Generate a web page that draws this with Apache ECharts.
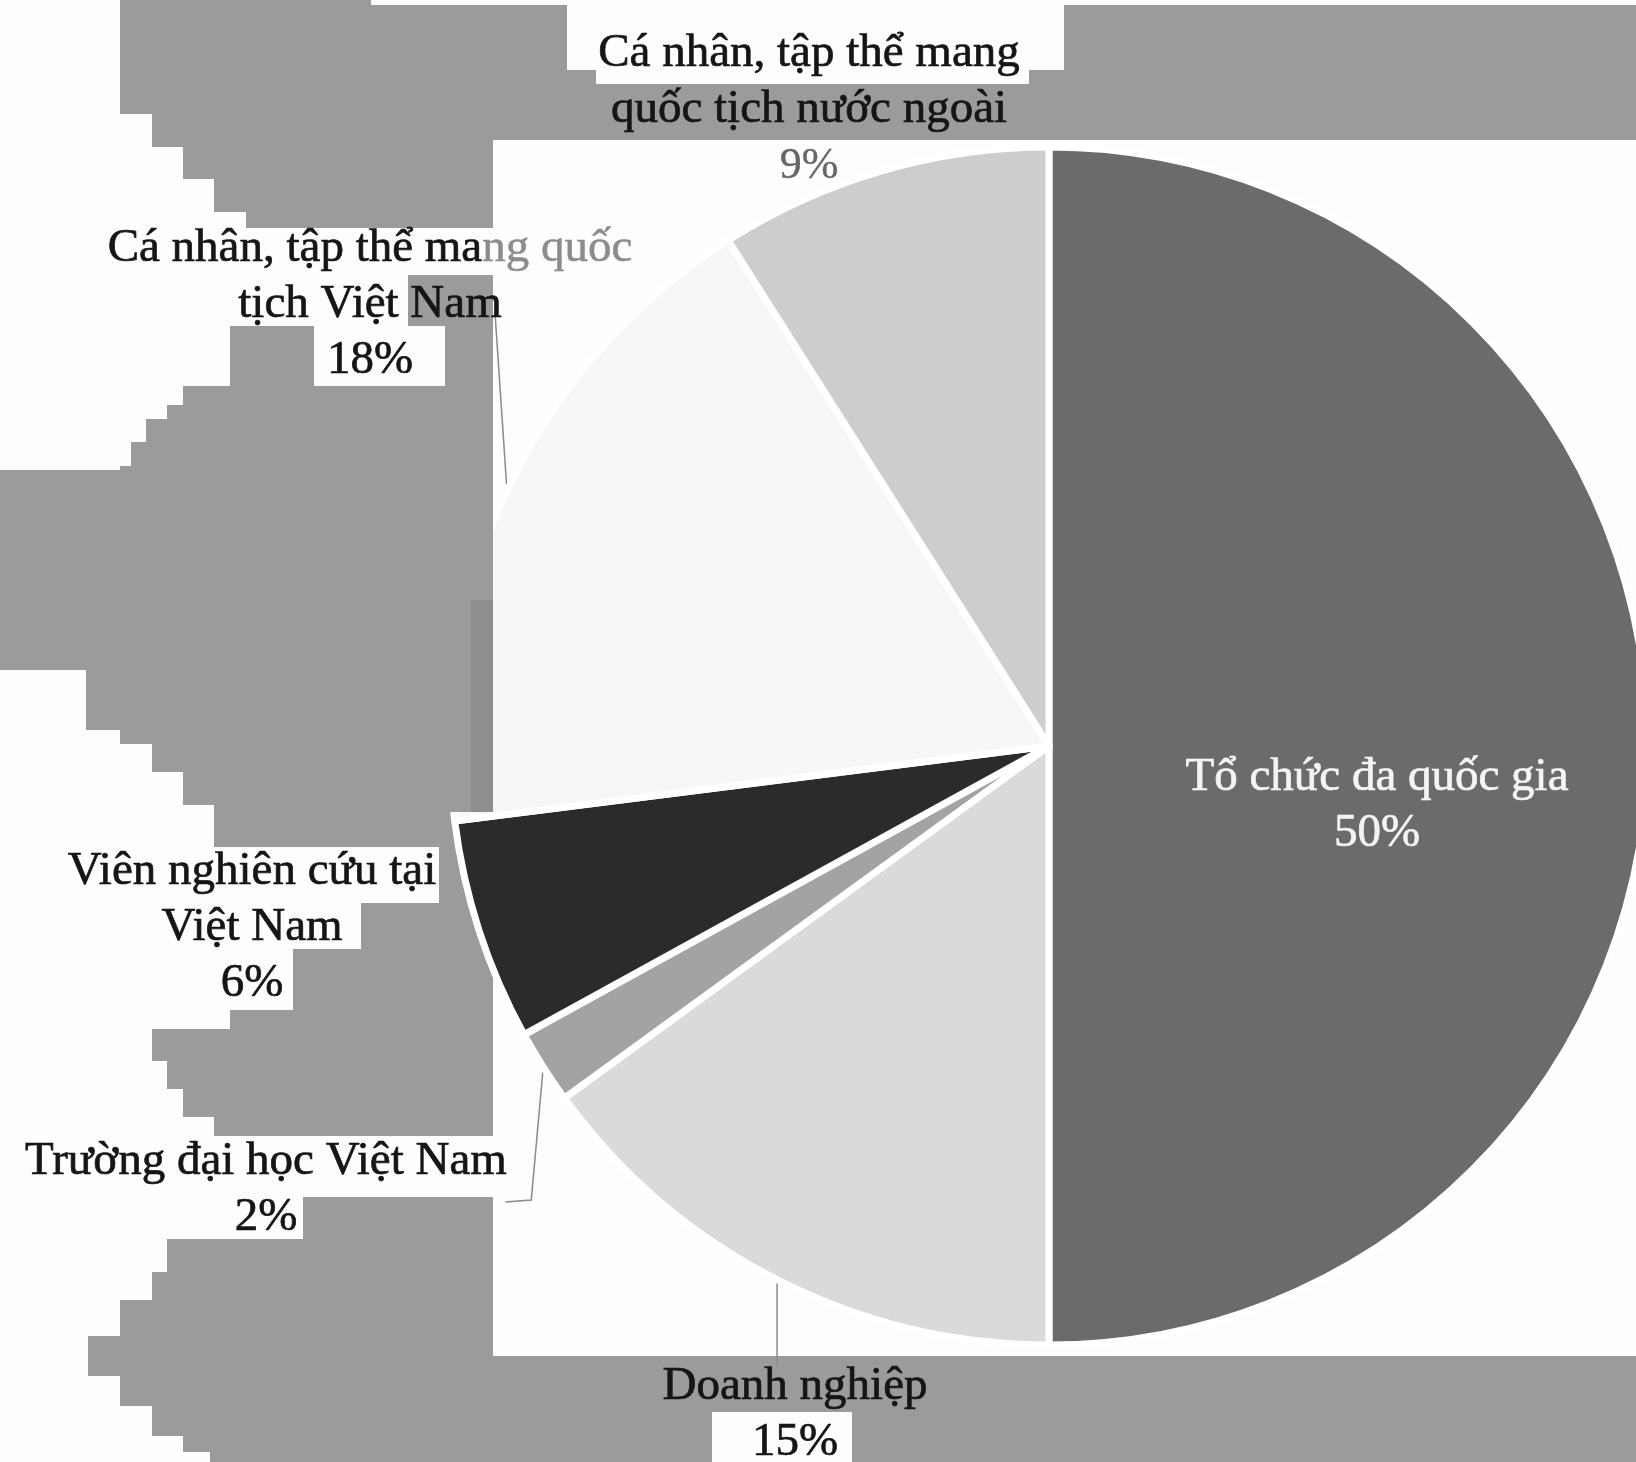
<!DOCTYPE html>
<html>
<head>
<meta charset="utf-8">
<script src="https://cdn.jsdelivr.net/npm/echarts@6/dist/echarts.min.js"></script>
<style>
html,body{margin:0;padding:0;background:#9b9b9b;}
#chart{width:1636px;height:1462px;}
</style>
</head>
<body>
<div id="chart"></div>
<script>
// ---- data ----
const categories = [
  'Tổ chức đa quốc gia',
  'Doanh nghiệp',
  'Trường đại học Việt Nam',
  'Viên nghiên cứu tại Việt Nam',
  'Cá nhân, tập thể mang quốc tịch Việt Nam',
  'Cá nhân, tập thể mang quốc tịch nước ngoài'
];
const shares = [50, 15, 2, 6, 18, 9];
// label text as wrapped in the picture
const labelNameLines = [
  ['Tổ chức đa quốc gia'],
  ['Doanh nghiệp'],
  ['Trường đại học Việt Nam'],
  ['Viên nghiên cứu tại', 'Việt Nam'],
  ['Cá nhân, tập thể mang quốc', 'tịch Việt Nam'],
  ['Cá nhân, tập thể mang', 'quốc tịch nước ngoài']
];

// ---- styles / layout ----
const sliceColors = ['#6b6b6b', '#dadada', '#a3a3a3', '#2b2b2b', '#f7f7f7', '#cdcdcd'];
const labelColors = ['#f4f4f4', '#151515', '#151515', '#151515', '#151515', '#151515'];
const showLeader = [false, true, true, false, true, false];
const fadedTail = [null, null, null, null, 'ng quốc', null];
const greyPercent = [false, false, false, false, false, true];
const labelPos = [[1377, 806], [795, 1415], [266, 1190], [252, 928], [370, 305], [809, 110]];
// leader bends: [x offset from the slice anchor, absolute y]
const leaderBends = [null, [[0, 1366]], [[-12, 1200], [-38, 1202]], null, [[-12, 313]], null];
const FONT = "'Liberation Serif','DejaVu Serif','Times New Roman',serif";

// white scan regions on grey paper [x, y, w, h]
const whiteRects = [
  [0,0,120,114],[0,114,152,33],[0,147,183,32],[0,179,214,33],[0,212,246,16],
  [0,228,640,47],[0,275,408,51],[0,326,230,60],[314,326,131,60],
  [0,386,183,19],[0,405,167,14],[0,419,146,23],[0,442,131,24],[0,466,120,4],
  [0,670,86,60],[0,730,120,14],[0,744,152,28],[0,772,183,33],[0,805,214,42],
  [0,847,439,56],[0,903,361,46],[0,949,293,61],
  [0,1010,230,19],[0,1029,152,32],[0,1061,167,28],[0,1089,183,28],[0,1117,214,19],
  [0,1136,513,61],[0,1197,303,42],
  [0,1239,167,33],[0,1272,152,28],[0,1300,120,36],[0,1336,88,40],[0,1376,120,30],
  [0,1406,152,30],[0,1436,183,16],[0,1452,210,10],
  [567,0,497,70],[596,70,433,14],[371,0,196,5],[1064,0,572,5],
  [493,140,1143,1216],
  [712,1412,140,50]
];

const graphics = whiteRects.map(r => ({
  type: 'rect', z: 0, silent: true,
  shape: {x: r[0], y: r[1], width: r[2], height: r[3]},
  style: {fill: '#fdfdfd'}
}));
// part of the pale slice lying outside the white frame shows as paper grey
graphics.push({type: 'rect', z: 10, silent: true,
  shape: {x: 430, y: 480, width: 63, height: 332}, style: {fill: '#9b9b9b'}});
graphics.push({type: 'rect', z: 11, silent: true,
  shape: {x: 471, y: 600, width: 22, height: 212}, style: {fill: '#8e8e8e'}});

function labelFormatter(p) {
  const i = p.dataIndex;
  const lines = labelNameLines[i].map((t, k) => {
    if (k === 0 && fadedTail[i]) {
      return '{t|' + t.slice(0, t.length - fadedTail[i].length) + '}{f|' + fadedTail[i] + '}';
    }
    return '{t|' + t + '}';
  });
  lines.push((greyPercent[i] ? '{q|' : '{t|') + Math.round(p.percent) + '%}');
  return lines.join('\n');
}

const data = categories.map((name, i) => ({
  name: name,
  value: shares[i],
  itemStyle: {color: sliceColors[i]},
  label: {color: labelColors[i], textBorderColor: labelColors[i]},
  labelLine: {show: showLeader[i]}
}));

const chart = echarts.init(document.getElementById('chart'), null, {renderer: 'canvas'});
chart.setOption({
  backgroundColor: '#9b9b9b',
  animation: false,
  graphic: {elements: graphics},
  series: [{
    type: 'pie',
    z: 2,
    center: [1049, 746],
    radius: 599,
    startAngle: 90,
    clockwise: true,
    avoidLabelOverlap: false,
    silent: true,
    itemStyle: {borderColor: '#ffffff', borderWidth: 7},
    label: {
      show: true,
      position: 'outside',
      fontFamily: FONT,
      fontSize: 47,
      lineHeight: 56,
      textBorderWidth: 0.7,
      formatter: labelFormatter,
      rich: {
        t: {fontFamily: FONT, fontSize: 47, lineHeight: 56},
        f: {fontFamily: FONT, fontSize: 47, lineHeight: 56, color: '#8c8c8c', textBorderColor: '#8c8c8c', textBorderWidth: 0.5},
        q: {fontFamily: FONT, fontSize: 44, lineHeight: 56, color: '#666', textBorderColor: '#666', textBorderWidth: 0.3}
      }
    },
    labelLine: {
      length: 20, length2: 20,
      lineStyle: {color: '#8a8a8a', width: 1.5}
    },
    labelLayout: function (params) {
      const i = params.dataIndex;
      const pos = labelPos[i];
      const out = {x: pos[0], y: pos[1], align: 'center', verticalAlign: 'middle'};
      const pts = params.labelLinePoints;
      if (leaderBends[i] && pts && pts.length) {
        const a = pts[0];
        out.labelLinePoints = [[a[0], a[1]]].concat(
          leaderBends[i].map(b => [a[0] + b[0], b[1]])
        );
      }
      return out;
    },
    data: data
  }]
});
</script>
</body>
</html>
